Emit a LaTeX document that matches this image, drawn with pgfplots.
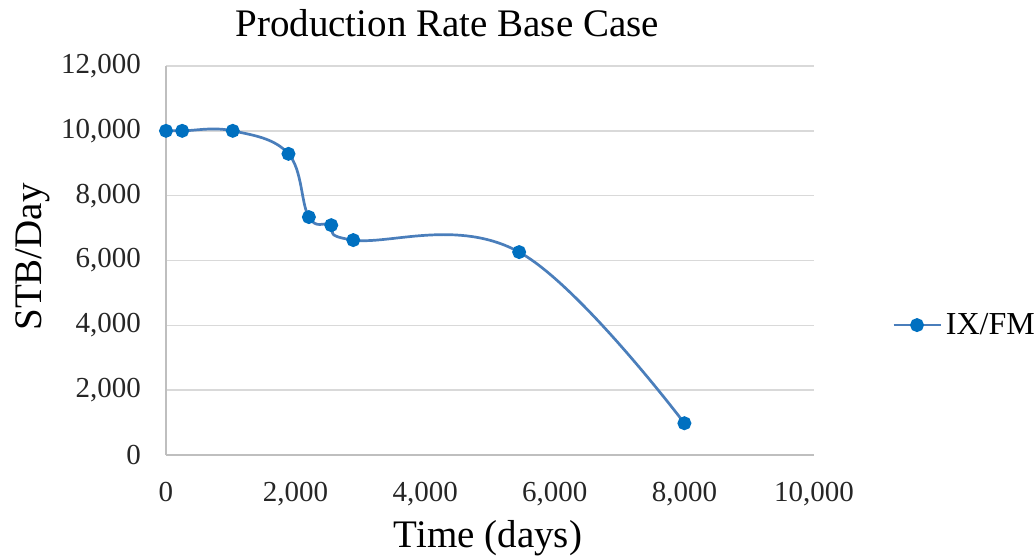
\documentclass[border=0pt]{standalone}
\usepackage{fontspec}
\setmainfont{Liberation Serif}
\usepackage{pgfplots}
\pgfplotsset{compat=1.18}
\definecolor{linec}{HTML}{4A7EBB}
\definecolor{markc}{HTML}{0070C0}
\definecolor{gridc}{HTML}{D9D9D9}
\definecolor{axisc}{HTML}{BFBFBF}
\begin{document}
\begin{tikzpicture}
\path[use as bounding box] (-83pt,-51.5pt) rectangle (435pt,227.5pt);
\begin{axis}[
  at={(0,0)}, anchor=south west,
  scale only axis, width=324pt, height=194.5pt,
  xmin=0, xmax=10000, ymin=0, ymax=12000,
  xtick={0,2000,...,10000}, ytick={0,2000,...,12000},
  axis x line*=bottom, axis y line*=left,
  axis line style={draw=axisc, line width=0.7pt, -},
  ymajorgrids, grid style={draw=gridc, line width=0.7pt},
  major tick length=0pt,
  scaled ticks=false,
  /pgf/number format/.cd, 1000 sep={,}, assume math mode=true,
  /pgfplots/.cd,
  tick label style={font=\fontsize{14.5}{16}\selectfont, text=black!85},
  yticklabel style={xshift=-9pt},
  xticklabel style={yshift=-10pt},
  every axis title shift=0pt,
  title={Production Rate Base Case},
  title style={at={(0.434,1.11)}, anchor=center, yshift=0pt, font=\fontsize{19.5}{22}\selectfont},
  xlabel={Time (days)},
  xlabel style={at={(0.497,-0.213)}, anchor=center, yshift=0pt, font=\fontsize{19.5}{22}\selectfont},
  ylabel={STB/Day},
  ylabel style={at={(-0.205,0.509)}, anchor=center, rotate=0, font=\fontsize{19.5}{22}\selectfont},
  legend style={at={(1.12,0.334)}, anchor=west, draw=none, fill=none,
    font=\fontsize{16}{18}\selectfont, inner sep=0pt},
  legend image code/.code={
    \draw[linec, line width=1.35pt] (0pt,0pt) -- (23.5pt,0pt);
    \fill[markc] (11.75pt,0pt) circle (2.8pt);
  },
  clip=false,
]
\addplot[linec, line width=1.35pt, smooth, tension=0.667,
  mark=*, mark size=2.8pt, mark options={fill=markc, draw=markc}]
  coordinates {
  (0,10000) (250,10000) (1030,10000) (1890,9290) (2205,7340)
  (2550,7090) (2890,6630) (5450,6260) (8000,980)
  };
\addlegendentry{IX/FM}
\end{axis}
\end{tikzpicture}
\end{document}
